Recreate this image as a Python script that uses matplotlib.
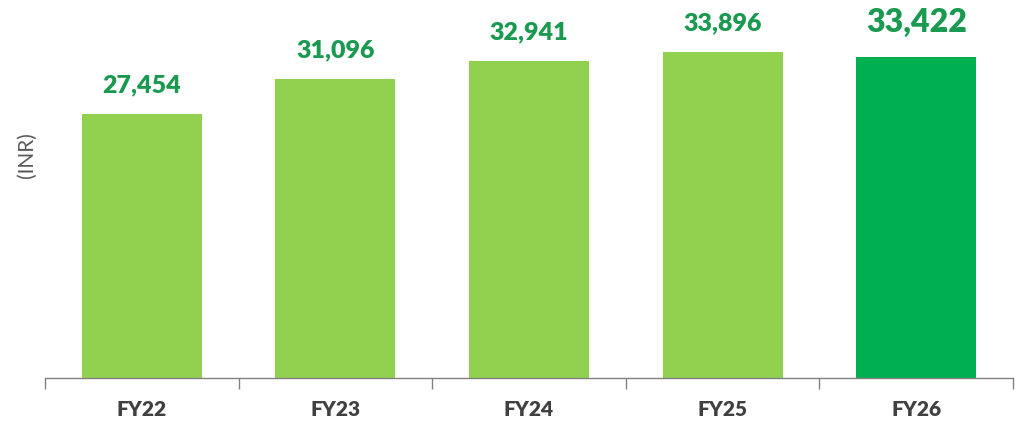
import matplotlib
matplotlib.use("Agg")
from matplotlib import pyplot as plt

years = ["FY22", "FY23", "FY24", "FY25", "FY26"]
values = [27454, 31096, 32941, 33896, 33422]
bar_colors = ["#92D050", "#92D050", "#92D050", "#92D050", "#00B050"]

plt.rcParams["font.family"] = ["Lato", "DejaVu Sans"]

fig = plt.figure(figsize=(10.2, 4.22), dpi=100)
ax = fig.add_axes([45 / 1020, 1 - 378 / 422, 968 / 1020, 378 / 422])

x = list(range(len(years)))
ax.bar(x, values, width=0.62, color=bar_colors)
ax.set_xlim(-0.5, len(years) - 0.5)
ax.set_ylim(0, 39310)

for i, v in enumerate(values):
    last = i == len(values) - 1
    ax.annotate(
        f"{v:,}",
        (i, v),
        xytext=(0, (34 if last else 29) * 0.72),
        textcoords="offset points",
        ha="center",
        va="center",
        fontsize=23 if last else 18,
        fontweight="heavy",
        color="#1A9A50",
    )

for s in ["top", "right", "left"]:
    ax.spines[s].set_visible(False)
ax.spines["bottom"].set_color("#808080")
ax.spines["bottom"].set_linewidth(1.0)
ax.set_yticks([])

# ticks at category boundaries, labels centered
ax.set_xticks([i - 0.5 for i in range(len(years) + 1)])
ax.set_xticklabels([])
ax.tick_params(axis="x", length=8, color="#808080", width=1.0)
for i, lab in enumerate(years):
    ax.text(i, -32 / 378, lab, transform=ax.get_xaxis_transform(), ha="center",
            va="center", fontsize=15, fontweight="heavy", color="#404040")

fig.text(27 / 1020, 1 - 155 / 422, "(INR)", rotation=90, ha="center",
         va="center", fontsize=15, color="#595959")

fig.savefig("out.png", dpi=100)
